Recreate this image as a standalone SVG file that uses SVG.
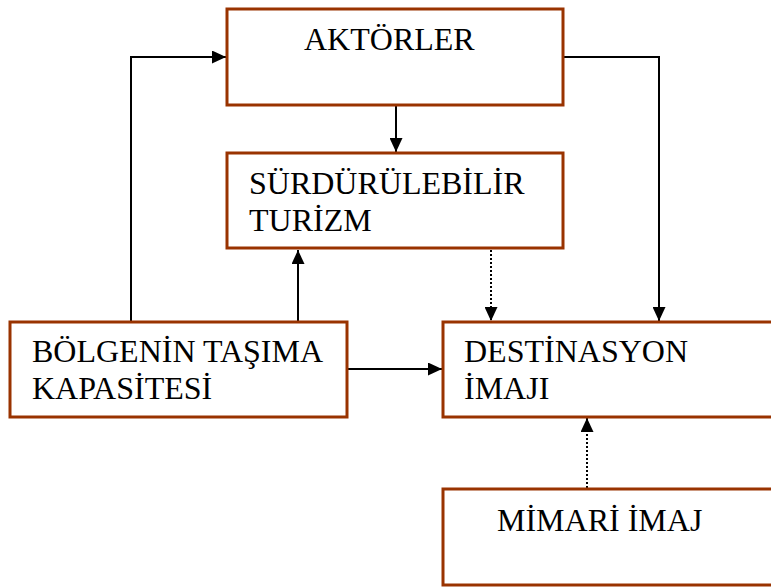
<svg xmlns="http://www.w3.org/2000/svg" width="771" height="587" viewBox="0 0 771 587">
<style>
.box{fill:#fff;stroke:#993300;stroke-width:3}
.t{font-family:"Liberation Serif","Times New Roman",serif;font-size:32px;fill:#000}
.c{fill:none;stroke:#000;stroke-width:2}
.d{fill:none;stroke:#000;stroke-width:2;stroke-dasharray:2 2}
</style>
<defs>
<marker id="ah" viewBox="0 0 14 13" refX="14" refY="6.5" markerWidth="14" markerHeight="13" markerUnits="userSpaceOnUse" orient="auto">
<path d="M0,0 L14,6.5 L0,13 Z" fill="#000"/>
</marker>
</defs>
<rect width="771" height="587" fill="#fff"/>
<g id="connectors">
<path class="c" d="M131,321 V57 H226" marker-end="url(#ah)"/>
<path class="c" d="M396,106 V152" marker-end="url(#ah)"/>
<path class="c" d="M298,321 V250" marker-end="url(#ah)"/>
<path class="d" d="M491,250 V321" marker-end="url(#ah)"/>
<path class="c" d="M564,57 H659 V321" marker-end="url(#ah)"/>
<path class="c" d="M348,369 H442" marker-end="url(#ah)"/>
<path class="d" d="M587,488 V418" marker-end="url(#ah)"/>
</g>
<g id="aktorler">
<rect class="box" x="227" y="9" width="336" height="96"/>
<text class="t" x="304" y="50">AKTÖRLER</text>
</g>
<g id="surdurulebilir">
<rect class="box" x="227" y="153" width="336" height="95"/>
<text class="t" x="249" y="194">SÜRDÜRÜLEBİLİR</text>
<text class="t" x="249" y="231">TURİZM</text>
</g>
<g id="bolgenin">
<rect class="box" x="10" y="322" width="337" height="95"/>
<text class="t" x="32" y="362">BÖLGENİN TAŞIMA</text>
<text class="t" x="32" y="399">KAPASİTESİ</text>
</g>
<g id="destinasyon">
<rect class="box" x="443" y="322" width="340" height="95"/>
<text class="t" x="464" y="362">DESTİNASYON</text>
<text class="t" x="464" y="399">İMAJI</text>
</g>
<g id="mimari">
<rect class="box" x="443" y="489" width="340" height="96"/>
<text class="t" x="497" y="531">MİMARİ İMAJ</text>
</g>
</svg>
